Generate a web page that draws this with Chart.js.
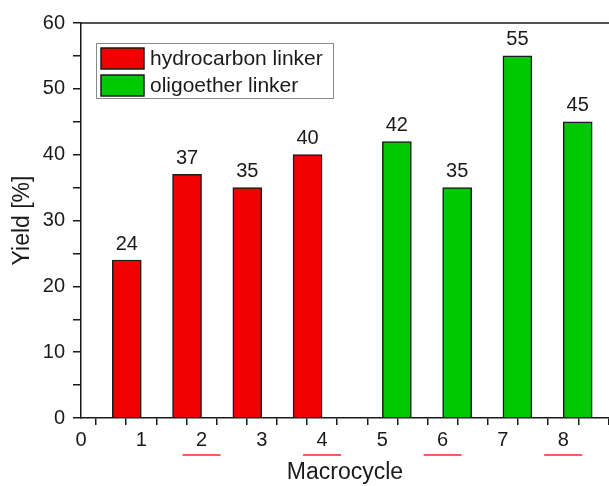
<!DOCTYPE html>
<html>
<head>
<meta charset="utf-8">
<script src="https://cdn.jsdelivr.net/npm/chart.js@4.4.1/dist/chart.umd.min.js"></script>
<style>
  html, body { margin: 0; padding: 0; background: #fff; }
  #wrap { width: 609px; height: 486px; }
</style>
</head>
<body>
<div id="wrap"><canvas id="yieldChart"></canvas></div>
<script>
const macrocycles = [1, 2, 3, 4, 5, 6, 7, 8];
const hydrocarbonYield = [24, 37, 35, 40, null, null, null, null];
const oligoetherYield = [null, null, null, null, 42, 35, 55, 45];
const seriesLabels = ['hydrocarbon linker', 'oligoether linker'];
const xTickValues = [0, 0.5, 1, 1.5, 2, 2.5, 3, 3.5, 4, 4.5, 5, 5.5, 6, 6.5, 7, 7.5, 8, 8.5];
const yTickValues = [0, 5, 10, 15, 20, 25, 30, 35, 40, 45, 50, 55, 60];
const underlined = [2, 4, 6, 8];

const FONT = '"Liberation Sans", Arial, sans-serif';
const INK = '#1a1a1a';

const toPoints = vals => macrocycles.map((m, i) => ({ x: m, y: vals[i] }));

const extras = {
    id: 'extras',
    afterDraw(chart) {
        const c = chart.ctx;
        const area = chart.chartArea;
        const xs = chart.scales.x;

        // top frame line
        c.save();
        c.strokeStyle = INK;
        c.lineWidth = 1.5;
        c.beginPath();
        c.moveTo(area.left, area.top);
        c.lineTo(area.right, area.top);
        c.stroke();

        // red marks under some tick labels
        c.strokeStyle = '#f22';
        c.lineWidth = 1.5;
        underlined.forEach(v => {
            const px = xs.getPixelForValue(v);
            c.beginPath();
            c.moveTo(px - 19, xs.top + 37);
            c.lineTo(px + 19, xs.top + 37);
            c.stroke();
        });

        // value labels above bars
        c.fillStyle = INK;
        c.font = '20px ' + FONT;
        c.textAlign = 'center';
        c.textBaseline = 'bottom';
        chart.data.datasets.forEach((ds, di) => {
            chart.getDatasetMeta(di).data.forEach((bar, i) => {
                const v = ds.data[i].y;
                if (v == null) return;
                c.fillText(String(v), bar.x, bar.y - 6);
            });
        });

        // legend box
        const lx = area.left + 15, ly = area.top + 20;
        c.strokeStyle = '#8a8a8a';
        c.lineWidth = 1;
        c.strokeRect(lx + 0.5, ly + 0.5, 237, 55);
        c.textAlign = 'left';
        c.textBaseline = 'middle';
        c.font = '21px ' + FONT;
        chart.data.datasets.forEach((ds, di) => {
            const sy = ly + 5 + di * 27;
            c.fillStyle = ds.backgroundColor;
            c.fillRect(lx + 5, sy, 43, 21);
            c.strokeStyle = INK;
            c.lineWidth = 1.5;
            c.strokeRect(lx + 5, sy, 43, 21);
            c.fillStyle = INK;
            c.fillText(ds.label, lx + 54, sy + 11);
        });
        c.restore();
    }
};

new Chart(document.getElementById('yieldChart'), {
    type: 'bar',
    data: {
        datasets: [
            {
                label: seriesLabels[0],
                data: toPoints(hydrocarbonYield),
                backgroundColor: 'rgb(240, 0, 0)',
                borderColor: INK,
                borderWidth: 1.5,
                barThickness: 29
            },
            {
                label: seriesLabels[1],
                data: toPoints(oligoetherYield),
                backgroundColor: 'rgb(0, 200, 0)',
                borderColor: INK,
                borderWidth: 1.5,
                barThickness: 29
            }
        ]
    },
    options: {
        responsive: true,
        maintainAspectRatio: false,
        animation: false,
        layout: { padding: { top: 23, right: 0, left: 0, bottom: 0 } },
        plugins: {
            legend: { display: false },
            tooltip: { enabled: false }
        },
        scales: {
            x: {
                type: 'linear',
                min: 0,
                max: 8.76,
                offset: false,
                afterBuildTicks: s => { s.ticks = xTickValues.map(v => ({ value: v })); },
                afterFit: s => { s.height = 68; },
                grid: { drawOnChartArea: false, tickLength: 7, color: INK, lineWidth: 1.5 },
                border: { color: INK, width: 1.5 },
                ticks: {
                    autoSkip: false,
                    maxRotation: 0,
                    padding: 3,
                    color: INK,
                    font: { family: FONT, size: 20 },
                    callback: v => Number.isInteger(v) ? v : ''
                },
                title: {
                    display: true,
                    text: 'Macrocycle',
                    color: INK,
                    font: { family: FONT, size: 23 },
                    padding: { top: 11, bottom: 0 }
                }
            },
            y: {
                min: 0,
                max: 60,
                afterBuildTicks: s => { s.ticks = yTickValues.map(v => ({ value: v })); },
                afterFit: s => { s.width = 81; },
                grid: { drawOnChartArea: false, tickLength: 8, color: INK, lineWidth: 1.5 },
                border: { color: INK, width: 1.5 },
                ticks: {
                    padding: 8,
                    color: INK,
                    font: { family: FONT, size: 20 },
                    callback: v => v % 10 === 0 ? v : ''
                },
                title: {
                    display: true,
                    text: 'Yield [%]',
                    color: INK,
                    font: { family: FONT, size: 23 },
                    padding: { top: 9, bottom: 4 }
                }
            }
        }
    },
    plugins: [extras]
});
</script>
</body>
</html>
